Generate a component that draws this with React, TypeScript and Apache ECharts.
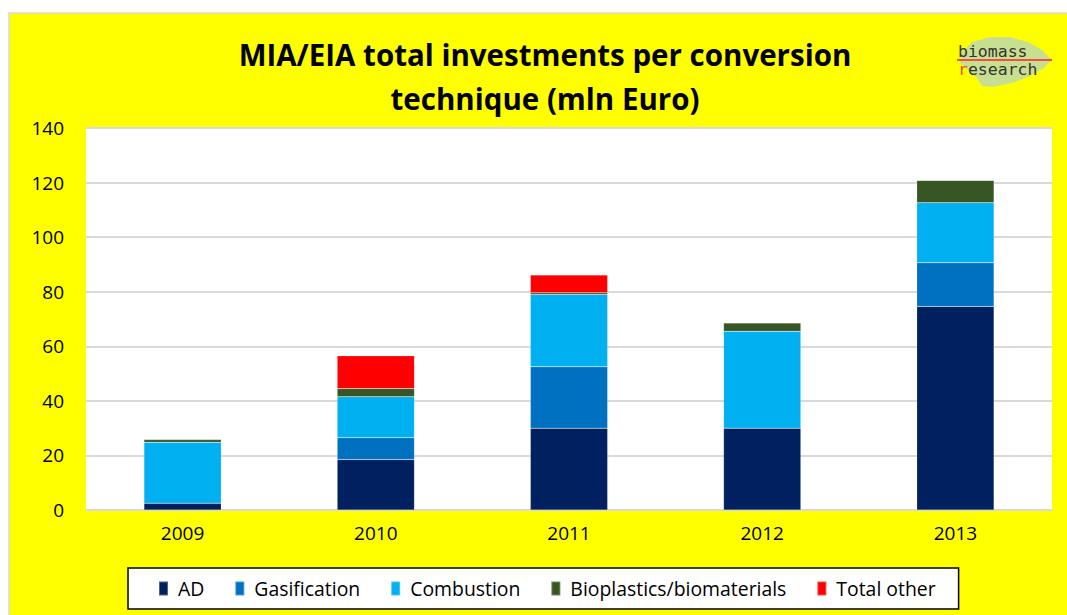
import React, { useEffect, useRef } from "react";
import * as echarts from "echarts";

const years = ["2009", "2010", "2011", "2012", "2013"];
const seriesNames = ["AD", "Gasification", "Combustion", "Bioplastics/biomaterials", "Total other"];
const adValues = [2.5, 18.5, 30, 30, 74.6];
const gasificationValues = [null, 8, 22.5, null, 16];
const combustionValues = [22.3, 15, 26.5, 35.5, 22];
const bioplasticsValues = [1, 3, 0.6, 3, 8.2];
const otherValues = [null, 12, 6.5, null, null];
const yTicks = { min: 0, max: 140, interval: 20 };
const colors = ["#002060", "#0070C0", "#00B0F0", "#375623", "#FF0000"];
const titleLines = ["MIA/EIA total investments per conversion", "technique (mln Euro)"];

const FONT = "'Open Sans', 'Noto Sans', sans-serif";
const MONO = "'DejaVu Sans Mono', monospace";

export default function App() {
  const ref = useRef<HTMLDivElement>(null);
  useEffect(() => {
    document.body.style.margin = "0";
    if (!ref.current) return;
    const chart = echarts.init(ref.current, undefined, { renderer: "svg" });
    const values = [adValues, gasificationValues, combustionValues, bioplasticsValues, otherValues];
    chart.setOption({
      animation: false,
      color: colors,
      textStyle: { fontFamily: FONT },
      grid: {
        left: 86, top: 128, right: 15, bottom: 105, containLabel: false,
        show: true, backgroundColor: "#fff", borderWidth: 0,
      },
      xAxis: {
        type: "category",
        data: years,
        axisTick: { show: false },
        axisLine: { lineStyle: { color: "#D9D9D9", width: 2 } },
        axisLabel: { color: "#000", fontSize: 19, margin: 13, fontFamily: FONT },
      },
      yAxis: {
        type: "value",
        min: yTicks.min,
        max: yTicks.max,
        interval: yTicks.interval,
        axisLine: { show: false },
        axisTick: { show: false },
        splitLine: { lineStyle: { color: "#D9D9D9", width: 2 } },
        axisLabel: { color: "#000", fontSize: 19, margin: 22, fontFamily: FONT },
      },
      legend: {
        data: seriesNames,
        bottom: 6,
        left: 128,
        icon: "rect",
        itemWidth: 9,
        itemHeight: 14,
        itemGap: 30,
        padding: [11, 23, 11, 30],
        backgroundColor: "#fff",
        borderColor: "#000",
        borderWidth: 1.5,
        textStyle: { color: "#000", fontSize: 19.4, fontFamily: FONT, padding: [0, 0, 0, 5] },
      },
      graphic: [
        {
          type: "rect",
          z: -10,
          silent: true,
          shape: { x: 9, y: 13, width: 1070, height: 620 },
          style: { fill: "#FFFF00", stroke: "#D9D9D9", lineWidth: 1.5 },
        },
        {
          type: "text",
          x: 545,
          y: 54,
          style: {
            text: titleLines[0],
            fill: "#000",
            font: `bold 29.5px ${FONT}`,
            align: "center",
            verticalAlign: "middle",
          },
        },
        {
          type: "text",
          x: 545,
          y: 98,
          style: {
            text: titleLines[1],
            fill: "#000",
            font: `bold 29.5px ${FONT}`,
            align: "center",
            verticalAlign: "middle",
          },
        },
        {
          type: "polygon",
          shape: {
            points: [
              [962, 52], [972, 42], [990, 37], [1010, 37], [1028, 42], [1042, 50], [1052, 60],
              [1044, 68], [1030, 76], [1012, 83], [993, 87], [982, 86], [977, 78], [968, 70], [960, 63],
            ],
          },
          style: { fill: "#C5DC98", opacity: 0.95 },
        },
        {
          type: "text",
          x: 958,
          y: 51,
          style: { text: "biomass", fill: "#333", font: `16.5px ${MONO}`, verticalAlign: "middle" },
        },
        {
          type: "line",
          shape: { x1: 957, y1: 60, x2: 1052, y2: 60 },
          style: { stroke: "#F05040", lineWidth: 2 },
        },
        {
          type: "text",
          x: 958,
          y: 69,
          style: {
            rich: {
              r: { fill: "#F05030", font: `16.5px ${MONO}` },
              t: { fill: "#333", font: `16.5px ${MONO}` },
            },
            text: "{r|r}{t|esearch}",
            verticalAlign: "middle",
          },
        },
      ],
      series: seriesNames.map((name, i) => ({
        name,
        type: "bar",
        stack: "total",
        barWidth: "40%",
        data: values[i],
        itemStyle: { color: colors[i], borderColor: "rgba(255,255,255,0.3)", borderWidth: 0.5 },
      })),
    });
    return () => chart.dispose();
  }, []);
  return <div ref={ref} style={{ width: 1067, height: 615 }} />;
}
